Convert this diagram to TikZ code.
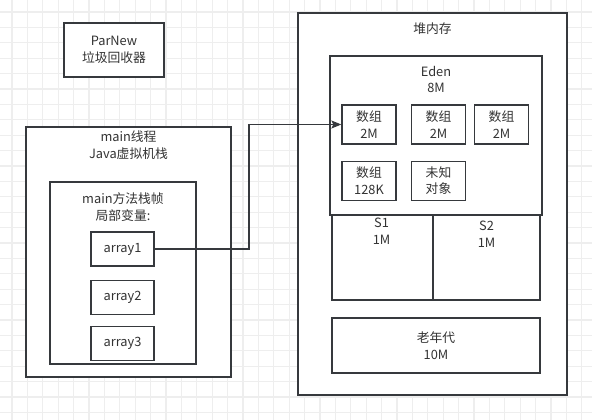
\documentclass[tikz,border=0pt]{standalone}
\usepackage{fontspec}
\newfontfamily\cjk{Noto Sans CJK SC}
\usetikzlibrary{arrows.meta,positioning,calc}
\definecolor{linegray}{HTML}{36393D}
\definecolor{textgray}{HTML}{333333}
\definecolor{gridgray}{HTML}{EEEEEE}
\newlength{\JVMArrWidth}
\setlength{\JVMArrWidth}{54pt}
\newlength{\JVMArrHeight}
\setlength{\JVMArrHeight}{39pt}
\tikzset{/jvm/box/.style={
	shape=rectangle, draw=linegray, line width=1.3pt, fill=white, inner sep=0, align=center, text=textgray, font=\cjk\fontsize{12.8}{16.5}\selectfont
}}
\tikzset{/jvm/arr/.style={
	/jvm/box, minimum width=\JVMArrWidth, minimum height=\JVMArrHeight
}}
\tikzset{/jvm/var/.style={
	/jvm/box, minimum width=63pt, minimum height=34pt
}}
\tikzset{/jvm/label/.style={
	align=center, inner sep=0, text=textgray, font=\cjk\fontsize{12.8}{16.5}\selectfont
}}

\begin{document}
\begin{tikzpicture}[x=1pt, y=-1pt]
			\useasboundingbox (0,0) rectangle (592,420);
			\fill[white] (0,0) rectangle (592,420);
			\foreach \g in {0,...,37} {
				\draw[gridgray, line width=1.3pt] (12+15.4*\g, 0) -- (12+15.4*\g, 420);
			}
			\foreach \g in {0,...,26} {
				\draw[gridgray, line width=1.3pt] (0, 12+15.4*\g) -- (592, 12+15.4*\g);
			}
			% garbage collector
			\path (114,50) node[/jvm/box, minimum width=100pt, minimum height=54pt] (GC) {ParNew\\垃圾回收器};
			% stack side
			\path (128.5,252) node[/jvm/box, minimum width=205pt, minimum height=250pt] (Thread) {};
			\path (Thread.north) ++(0, 19) node[/jvm/label] (ThreadLbl) {main线程\\Java虚拟机栈};
			\path (123,273) node[/jvm/box, minimum width=146pt, minimum height=182pt] (Frame) {};
			\path (Frame.north) ++(0, 26) node[/jvm/label] (FrameLbl) {main方法栈帧\\局部变量:};
			\path (122.5,249) node[/jvm/var] (Var1) {array1};
			\path (Var1.south) ++(0, 13) node[/jvm/var, anchor=north] (Var2) {array2};
			\path (Var2.south) ++(0, 11) node[/jvm/var, anchor=north] (Var3) {array3};
			% heap side
			\path (432.5,204) node[/jvm/box, minimum width=269pt, minimum height=382pt] (Heap) {};
			\path (Heap.north) ++(0, 16) node[/jvm/label] (HeapLbl) {堆内存};
			\path (382.5,257.5) node[/jvm/box, minimum width=101pt, minimum height=85pt] (S1) {};
			\path (486.5,257.5) node[/jvm/box, minimum width=107pt, minimum height=85pt] (S2) {};
			\path (S1.north) ++(-1, 17) node[/jvm/label] (S1Lbl) {S1\\1M};
			\path (S2.north) ++(0, 20) node[/jvm/label] (S2Lbl) {S2\\1M};
			\path (436,135.5) node[/jvm/box, minimum width=212pt, minimum height=159pt] (Eden) {};
			\path (Eden.north) ++(0, 24) node[/jvm/label] (EdenLbl) {Eden\\8M};
			\path (369,124.5) node[/jvm/arr] (Arr1) {数组\\2M};
			\path (438.5,124.5) node[/jvm/arr] (Arr2) {数组\\2M};
			\path (501.5,124.5) node[/jvm/arr] (Arr3) {数组\\2M};
			\path (Arr1.south) ++(0, 16) node[/jvm/arr, anchor=north] (Arr4) {数组\\128K};
			\path (Arr2.south) ++(0, 16) node[/jvm/arr, anchor=north] (Arr5) {未知\\对象};
			\path (436,345.5) node[/jvm/box, minimum width=208pt, minimum height=55pt] (Old) {老年代\\10M};
			% reference
			\coordinate (Bend) at (249,124.5);
			\path[-{Stealth[length=10pt, width=8pt, inset=2pt]}, draw=linegray, line width=1.3pt] (Var1.east) -| (Bend) -- (Arr1.west);
		\end{tikzpicture}
\end{document}
